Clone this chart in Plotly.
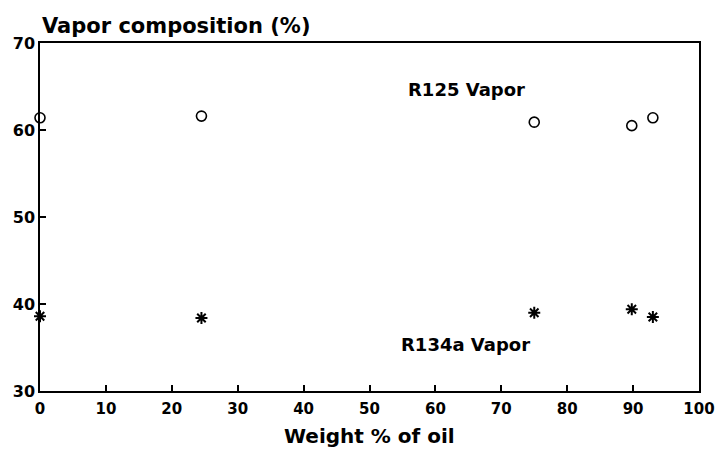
import plotly.graph_objects as go

oil_wt = [0, 24.5, 75, 89.8, 93]
r125_vapor = [61.4, 61.6, 60.9, 60.5, 61.4]
r134a_vapor = [38.6, 38.4, 39.0, 39.4, 38.5]
x_ticks = [0, 10, 20, 30, 40, 50, 60, 70, 80, 90, 100]
y_ticks = [30, 40, 50, 60, 70]

font_family = "DejaVu Sans, Arial, sans-serif"

fig = go.Figure()
fig.add_trace(go.Scatter(
    x=oil_wt, y=r125_vapor, mode="markers", name="R125 Vapor",
    marker=dict(symbol="circle-open", size=10, color="black", line=dict(width=1.6)),
    cliponaxis=False,
))
fig.add_trace(go.Scatter(
    x=oil_wt, y=r134a_vapor, mode="markers", name="R134a Vapor",
    marker=dict(symbol="asterisk-open", size=10, color="black", line=dict(width=2)),
    cliponaxis=False,
))

fig.add_annotation(x=55.5, y=64.66, text="<b>R125 Vapor</b>", showarrow=False,
                   xanchor="left", yanchor="middle", font=dict(size=18, color="black", family=font_family))
fig.add_annotation(x=54.4, y=35.4, text="<b>R134a Vapor</b>", showarrow=False,
                   xanchor="left", yanchor="middle", font=dict(size=18, color="black", family=font_family))
fig.add_annotation(x=0, y=1.05, xref="paper", yref="paper", text="<b>Vapor composition (%)</b>",
                   showarrow=False, xanchor="left", yanchor="middle",
                   font=dict(size=21, color="black", family=font_family))
fig.add_annotation(x=0.5, y=-0.13, xref="paper", yref="paper", text="<b>Weight % of oil</b>",
                   showarrow=False, xanchor="center", yanchor="middle",
                   font=dict(size=20, color="black", family=font_family))

fig.update_layout(
    width=716, height=449,
    margin=dict(l=40, r=17, t=43, b=58),
    plot_bgcolor="white", paper_bgcolor="white",
    showlegend=False,
    font=dict(family=font_family, color="black"),
    xaxis=dict(
        range=[0, 100], tickvals=x_ticks, ticktext=[f"<b>{v}</b>" for v in x_ticks],
        ticks="inside", ticklen=6, tickwidth=1.5, tickcolor="black",
        showline=True, linecolor="black", linewidth=1.5, mirror=True,
        showgrid=False, zeroline=False, tickfont=dict(size=15),
        automargin=False, ticklabelstandoff=3,
    ),
    yaxis=dict(
        range=[30, 70], tickvals=y_ticks, ticktext=[f"<b>{v}</b>" for v in y_ticks],
        ticks="inside", ticklen=6, tickwidth=1.5, tickcolor="black",
        showline=True, linecolor="black", linewidth=1.5, mirror=True,
        showgrid=False, zeroline=False, tickfont=dict(size=16),
        automargin=False,
    ),
)

fig.write_html("out.html", config={"displayModeBar": False},
               post_script="document.body.style.margin='0';document.body.style.overflow='hidden';")
